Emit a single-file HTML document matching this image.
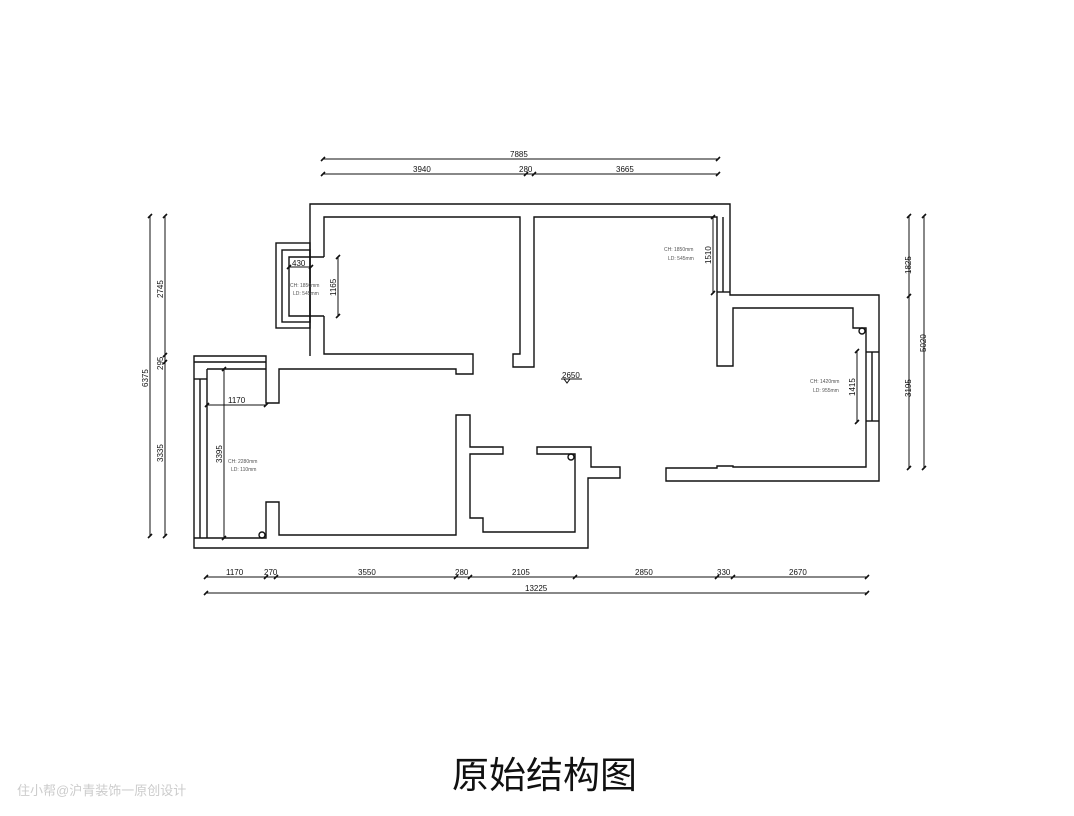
<!DOCTYPE html>
<html><head><meta charset="utf-8"><style>
html,body{margin:0;padding:0;background:#fff;width:1074px;height:816px;overflow:hidden}
svg{display:block}
.w{fill:none;stroke:#111;stroke-width:1.4}
.d{fill:none;stroke:#111;stroke-width:1}
.t{font-family:"Liberation Sans",sans-serif;font-size:8px;fill:#111}
.s{font-family:"Liberation Sans",sans-serif;font-size:5px;fill:#555}
</style></head><body>
<svg width="1074" height="816" viewBox="0 0 1074 816">
<!-- outer boundary -->
<polyline class="w" points="310,356 310,204 730,204 730,295 879,295 879,481 666,481 666,468 717,468 717,466 733,466 733,467 866,467 866,328 853,328 853,308 733,308 733,366 717,366 717,217 534,217 534,367 513,367 513,354 520,354 520,217 324,217 324,257"/>
<polyline class="w" points="324,316 324,354 473,354 473,374 456,374 456,369 279,369 279,403 266,403 266,356 194,356 194,548 588,548 588,478 620,478 620,467 591,467 591,447 537,447 537,454 575,454 575,532 483,532 483,518 470,518 470,454 503,454 503,447 470,447 470,415 456,415 456,535 279,535 279,502 266,502 266,538 194,538"/>
<!-- left window -->
<line class="w" x1="194" y1="362" x2="266" y2="362"/>
<line class="w" x1="207" y1="369" x2="266" y2="369"/>
<line class="w" x1="194" y1="379" x2="207" y2="379"/>
<line class="w" x1="200" y1="379" x2="200" y2="538"/>
<line class="w" x1="207" y1="369" x2="207" y2="538"/>
<!-- balcony box -->
<rect class="w" x="276" y="243" width="34" height="85"/>
<rect class="w" x="282" y="250" width="28" height="72"/>
<polyline class="w" points="324,257 289,257 289,316 324,316"/>
<!-- right top window -->
<line class="w" x1="723" y1="217" x2="723" y2="292"/>
<line class="w" x1="717" y1="292" x2="730" y2="292"/>
<!-- right window -->
<line class="w" x1="866" y1="352" x2="879" y2="352"/>
<line class="w" x1="866" y1="421" x2="879" y2="421"/>
<line class="w" x1="872" y1="352" x2="872" y2="421"/>
<!-- pipes -->
<circle class="w" cx="262" cy="535" r="3"/>
<circle class="w" cx="571" cy="457" r="3"/>
<circle class="w" cx="862" cy="331" r="3"/>
<!-- level mark -->
<text class="t" x="562" y="378" font-size="7">2650</text>
<line class="d" x1="561" y1="379" x2="582" y2="379"/>
<polyline class="d" points="564,379 567,383 570,379"/>
<!-- top dims -->
<g class="d">
<line x1="323" y1="159" x2="718" y2="159"/><line x1="323" y1="174" x2="718" y2="174"/>
<line x1="150" y1="216" x2="150" y2="536"/><line x1="165" y1="216" x2="165" y2="536"/>
<line x1="909" y1="216" x2="909" y2="468"/><line x1="924" y1="216" x2="924" y2="468"/>
<line x1="206" y1="577" x2="867" y2="577"/><line x1="206" y1="593" x2="867" y2="593"/>
<line x1="207" y1="405" x2="266" y2="405"/>
<line x1="224" y1="369" x2="224" y2="538"/>
<line x1="338" y1="257" x2="338" y2="316"/>
<line x1="289" y1="267" x2="311" y2="267"/>
<line x1="713" y1="217" x2="713" y2="293"/>
<line x1="857" y1="351" x2="857" y2="422"/>
</g>
<g stroke="#111" stroke-width="1.6">
<path d="M321,161l4,-4M716,161l4,-4M321,176l4,-4M524,176l4,-4M532,176l4,-4M716,176l4,-4"/>
<path d="M148,218l4,-4M148,538l4,-4M163,218l4,-4M163,357l4,-4M163,364l4,-4M163,538l4,-4"/>
<path d="M907,218l4,-4M907,298l4,-4M907,470l4,-4M922,218l4,-4M922,470l4,-4"/>
<path d="M204,579l4,-4M264,579l4,-4M274,579l4,-4M454,579l4,-4M468,579l4,-4M573,579l4,-4M715,579l4,-4M731,579l4,-4M865,579l4,-4M204,595l4,-4M865,595l4,-4"/>
<path d="M205,407l4,-4M264,407l4,-4M222,371l4,-4M222,540l4,-4M336,259l4,-4M336,318l4,-4M287,269l4,-4M309,269l4,-4M711,219l4,-4M711,295l4,-4M855,353l4,-4M855,424l4,-4"/>
</g>
<g class="t">
<text x="510" y="157">7885</text>
<text x="413" y="172">3940</text><text x="519" y="172">280</text><text x="616" y="172">3665</text>
<text x="228" y="403">1170</text>
<text x="292" y="266">430</text>
<text x="226" y="575">1170</text><text x="264" y="575">270</text><text x="358" y="575">3550</text><text x="455" y="575">280</text><text x="512" y="575">2105</text><text x="635" y="575">2850</text><text x="717" y="575">330</text><text x="789" y="575">2670</text>
<text x="525" y="591">13225</text>
<text transform="translate(148,387) rotate(-90)">6375</text>
<text transform="translate(163,298) rotate(-90)">2745</text>
<text transform="translate(163,370) rotate(-90)">295</text>
<text transform="translate(163,462) rotate(-90)">3335</text>
<text transform="translate(222,463) rotate(-90)">3395</text>
<text transform="translate(336,296) rotate(-90)">1165</text>
<text transform="translate(711,264) rotate(-90)">1510</text>
<text transform="translate(855,396) rotate(-90)">1415</text>
<text transform="translate(911,274) rotate(-90)">1825</text>
<text transform="translate(926,352) rotate(-90)">5020</text>
<text transform="translate(911,397) rotate(-90)">3195</text>
</g>
<g class="s">
<text x="290" y="287">CH: 1850mm</text><text x="293" y="295">LD: 545mm</text>
<text x="664" y="251">CH: 1850mm</text><text x="668" y="260">LD: 545mm</text>
<text x="810" y="383">CH: 1420mm</text><text x="813" y="392">LD: 955mm</text>
<text x="228" y="463">CH: 2280mm</text><text x="231" y="471">LD: 110mm</text>
</g>
<text x="452" y="788" font-family="'Noto Sans CJK SC',sans-serif" font-size="37" fill="#111">原始结构图</text>
<text x="17" y="795" font-family="'Liberation Sans','Noto Sans CJK SC',sans-serif" font-size="13" fill="#ccc">住小帮@沪青装饰一原创设计</text>
</svg>
</body></html>
